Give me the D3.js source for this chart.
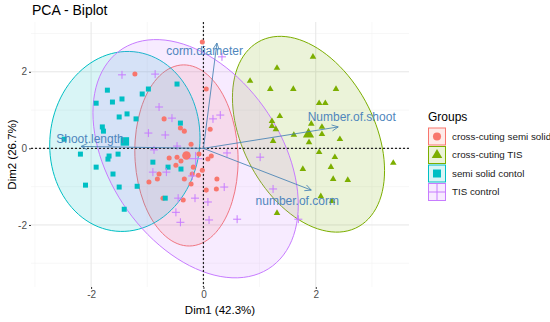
<!DOCTYPE html>
<html>
<head>
<meta charset="utf-8">
<script src="https://cdn.jsdelivr.net/npm/d3@7"></script>
<style>
  body { margin: 0; background: white; }
  text { font-family: Arial, "Liberation Sans", sans-serif; }
</style>
</head>
<body>
<div id="viz"></div>
<script>

// Group names and colors
var groups = ["cross-cuting semi solid", "cross-cuting TIS", "semi solid contol", "TIS control"];
var groupColors = ["#F8766D", "#7CAE00", "#00BFC4", "#C77CFF"];
var groupShapes = ["circle", "triangle", "square", "plus"];

// Individual coordinates per group (Dim1, Dim2)
var semiSolidPts = [
	[-0.02, 2.78], [-1.22, 1.94], [0.05, 1.55], [-0.70, 0.77], [-0.41, 0.53], [-0.34, 0.45],
	[0.12, 0.50], [-0.22, 0.11], [-0.61, -0.25], [-0.47, -0.23], [-0.40, -0.33], [-0.49, -0.44],
	[-0.08, -0.15], [0.08, -0.28], [0.14, -0.20], [-0.79, -0.67], [-0.82, -0.80], [-0.97, -0.88],
	[-0.34, -0.80], [-0.22, -0.93], [-0.09, -0.70], [-0.02, -0.57], [-0.18, -0.49], [-0.20, -0.67],
	[0.24, -0.80], [0.23, -1.06], [0.05, -1.09], [-0.72, -1.30], [-0.36, -1.35]
];
var tisPts = [
	[1.95, 2.39], [1.31, 2.10], [0.83, 1.76], [1.19, 1.55], [1.60, 1.55], [2.36, 1.55],
	[2.06, 1.18], [2.17, 1.18], [1.36, 0.84], [1.22, 0.71], [1.22, 0.58], [1.29, 0.50],
	[1.92, 0.64], [2.11, 0.56], [1.61, 0.35], [2.11, 0.37], [1.88, 0.16], [2.43, 0.24],
	[1.24, 0.19], [2.06, -0.10], [2.34, -0.23], [2.27, -0.49], [1.77, -0.54], [3.38, -0.38],
	[2.31, -0.80], [2.57, -0.83], [2.09, -1.25], [2.29, -1.38], [1.31, -1.69]
];
var semiControlPts = [
	[-1.71, 1.52], [-1.91, 1.18], [-1.62, 1.21], [-1.45, 1.29], [-1.09, 1.42], [-0.98, 1.55],
	[-0.47, 1.68], [-1.50, 0.82], [-1.36, 0.90], [-1.20, 0.77], [-1.80, 0.56], [-1.78, 0.45],
	[-2.48, 0.24], [-2.19, -0.15], [-1.68, -0.20], [-1.70, -0.28], [-1.52, -0.15], [-1.91, -0.49],
	[-1.61, -0.67], [-2.10, -0.96], [-1.50, -1.01], [-1.18, -0.99], [-1.41, -1.59], [-0.90, -0.36],
	[-0.63, -0.49], [-0.40, -0.54], [-0.41, 0.66], [-0.68, -1.30]
];
var tisControlPts = [
	[-1.45, 1.92], [-0.86, 1.94], [0.33, 2.39], [-0.79, 1.08], [-0.56, 0.79], [0.30, 0.87],
	[0.17, 0.77], [-0.98, 0.40], [-0.68, 0.35], [-0.88, -0.04], [-0.47, 0.06], [0.42, -0.12],
	[1.01, -0.23], [-0.90, -0.62], [-0.66, -0.62], [-0.20, -0.72], [0.37, -1.01], [1.24, -1.06],
	[-0.45, -1.30], [-0.15, -1.30], [0.08, -1.40], [-0.49, -1.67], [-0.41, -1.93], [0.10, -1.87],
	[0.60, -1.85], [1.69, -1.85]
];
var groupPoints = [semiSolidPts, tisPts, semiControlPts, tisControlPts];

// Variables (arrow tips and label positions)
var varNames = ["corm.diameter", "Number.of.shoot", "number.of.corm", "Shoot.length"];
var varTips = [[0.24, 2.75], [2.40, 0.56], [1.92, -1.09], [-2.18, 0.05]];
var varLabelPos = [[0.02, 2.52], [2.64, 0.79], [1.67, -1.40], [-2.02, 0.22]];

// Axis ticks
var xTicks = [-2, 0, 2], yTicks = [-2, 0, 2];
var xMinor = [-3, -1, 1, 3], yMinor = [-3, -1, 1, 3];

var width = 550, height = 322;
var panel = {left: 31, right: 409, top: 22, bottom: 287};

var x = d3.scaleLinear().domain([-3.07, 3.66]).range([panel.left, panel.right]);
var y = d3.scaleLinear().domain([-3.62, 3.30]).range([panel.bottom, panel.top]);

var svg = d3.select("#viz").append("svg")
	.attr("width", width)
	.attr("height", height)
	.style("background", "white");

// Grid lines
var grid = svg.append("g");
xMinor.forEach(v => grid.append("line")
	.attr("x1", x(v)).attr("x2", x(v)).attr("y1", panel.top).attr("y2", panel.bottom)
	.style("stroke", "#f2f2f2").style("stroke-width", 0.6));
yMinor.forEach(v => grid.append("line")
	.attr("x1", panel.left).attr("x2", panel.right).attr("y1", y(v)).attr("y2", y(v))
	.style("stroke", "#f2f2f2").style("stroke-width", 0.6));
xTicks.forEach(v => grid.append("line")
	.attr("x1", x(v)).attr("x2", x(v)).attr("y1", panel.top).attr("y2", panel.bottom)
	.style("stroke", "#e6e6e6").style("stroke-width", 1));
yTicks.forEach(v => grid.append("line")
	.attr("x1", panel.left).attr("x2", panel.right).attr("y1", y(v)).attr("y2", y(v))
	.style("stroke", "#e6e6e6").style("stroke-width", 1));

// Axes (ticks and labels only)
var xAxis = svg.append("g")
	.attr("transform", `translate(0, ${panel.bottom})`)
	.call(d3.axisBottom(x).tickValues(xTicks).tickSize(2).tickPadding(2).tickFormat(d3.format("d")));
var yAxis = svg.append("g")
	.attr("transform", `translate(${panel.left}, 0)`)
	.call(d3.axisLeft(y).tickValues(yTicks).tickSize(2).tickPadding(2).tickFormat(d3.format("d")));
[xAxis, yAxis].forEach(a => {
	a.select(".domain").remove();
	a.selectAll(".tick line").style("stroke", "#333");
	a.selectAll(".tick text").style("fill", "#4d4d4d").style("font-size", "10px")
		.style("font-family", "Arial, 'Liberation Sans', sans-serif");
});
xAxis.selectAll(".tick text").text(d => d < 0 ? "-" + Math.abs(d) : d);
yAxis.selectAll(".tick text").text(d => d < 0 ? "-" + Math.abs(d) : d);

// Concentration ellipses (normal, 95%) from each group's covariance
var ellipsePath = (pts) => {
	var n = pts.length,
		mx = d3.mean(pts, d => d[0]),
		my = d3.mean(pts, d => d[1]);
	var sxx = d3.sum(pts, d => (d[0] - mx) * (d[0] - mx)) / (n - 1),
		syy = d3.sum(pts, d => (d[1] - my) * (d[1] - my)) / (n - 1),
		sxy = d3.sum(pts, d => (d[0] - mx) * (d[1] - my)) / (n - 1);
	// chi-square radius, 2 df, 95%
	var r = Math.sqrt(-2 * Math.log(0.05));
	var a = Math.sqrt(sxx), b = sxy / a, c = Math.sqrt(syy - b * b);
	var out = d3.range(0, 52).map(i => {
		var t = i / 52 * 2 * Math.PI;
		return [mx + r * a * Math.cos(t), my + r * (b * Math.cos(t) + c * Math.sin(t))];
	});
	return d3.line().x(d => x(d[0])).y(d => y(d[1])).curve(d3.curveCardinalClosed)(out);
};

svg.append("g").selectAll("path")
	.data(groupPoints)
	.enter()
	.append("path")
	.attr("d", d => ellipsePath(d))
	.style("fill", (d, i) => groupColors[i])
	.style("fill-opacity", 0.15)
	.style("stroke", (d, i) => groupColors[i])
	.style("stroke-width", 1);

// Reference lines
svg.append("line")
	.attr("x1", x(0)).attr("x2", x(0)).attr("y1", panel.top).attr("y2", panel.bottom)
	.style("stroke", "#222").style("stroke-width", 1.2).style("stroke-dasharray", "2,2");
svg.append("line")
	.attr("x1", panel.left).attr("x2", panel.right).attr("y1", y(0)).attr("y2", y(0))
	.style("stroke", "#222").style("stroke-width", 1.2).style("stroke-dasharray", "2,2");

// Shape drawing
var shapePath = (shape, s) => {
	if (shape == "circle") return d3.symbol(d3.symbolCircle, s * s * 0.8)();
	if (shape == "square") return d3.symbol(d3.symbolSquare, s * s)();
	if (shape == "triangle") return d3.symbol(d3.symbolTriangle, s * s * 0.75)();
	var h = s * 0.8;
	return `M${-h},0H${h}M0,${-h}V${h}`;
};
var drawShape = (g, shape, color, s) => {
	g.append("path")
		.attr("d", shapePath(shape, s))
		.style("fill", shape == "plus" ? "none" : color)
		.style("stroke", color)
		.style("stroke-width", shape == "plus" ? 1 : 0);
};

// Individuals
groupPoints.forEach((pts, gi) => {
	svg.append("g").selectAll("g")
		.data(pts)
		.enter()
		.append("g")
		.attr("transform", d => `translate(${x(d[0])}, ${y(d[1])})`)
		.each(function() { drawShape(d3.select(this), groupShapes[gi], groupColors[gi], 5); });
});

// Group means
groupPoints.forEach((pts, gi) => {
	var mx = d3.mean(pts, d => d[0]), my = d3.mean(pts, d => d[1]);
	var g = svg.append("g").attr("transform", `translate(${x(mx)}, ${y(my)})`);
	drawShape(g, groupShapes[gi], groupColors[gi], 8.5);
});

// Variable arrows
var arrows = svg.append("g");
varTips.forEach((t, i) => {
	var x0 = x(0), y0 = y(0), x1 = x(t[0]), y1 = y(t[1]);
	var ang = Math.atan2(y1 - y0, x1 - x0), L = 7, spread = 0.45;
	arrows.append("line")
		.attr("x1", x0).attr("y1", y0).attr("x2", x1).attr("y2", y1)
		.style("stroke", "#4682B4").style("stroke-width", 1).style("opacity", 0.85);
	arrows.append("path")
		.attr("d", `M${x1 - L * Math.cos(ang - spread)},${y1 - L * Math.sin(ang - spread)}L${x1},${y1}L${x1 - L * Math.cos(ang + spread)},${y1 - L * Math.sin(ang + spread)}`)
		.style("fill", "none").style("stroke", "#4682B4").style("stroke-width", 1).style("opacity", 0.85);
});
svg.append("g").selectAll("text")
	.data(varNames)
	.enter()
	.append("text")
	.attr("x", (d, i) => x(varLabelPos[i][0]))
	.attr("y", (d, i) => y(varLabelPos[i][1]))
	.attr("text-anchor", "middle")
	.attr("dominant-baseline", "middle")
	.style("fill", "#4F86BD")
	.style("font-size", "12px")
	.text(d => d);

// Title and axis titles
svg.append("text").attr("x", 32).attr("y", 15)
	.style("font-size", "14px").style("fill", "#000").text("PCA - Biplot");
svg.append("text").attr("x", (panel.left + panel.right) / 2).attr("y", 314)
	.attr("text-anchor", "middle").style("font-size", "11.5px").style("fill", "#000").text("Dim1 (42.3%)");
svg.append("text")
	.attr("transform", `translate(16, ${(panel.top + panel.bottom) / 2}) rotate(-90)`)
	.attr("text-anchor", "middle").style("font-size", "11.5px").style("fill", "#000").text("Dim2 (26.7%)");

// Legend
var legend = svg.append("g").attr("transform", "translate(428, 0)");
legend.append("text").attr("x", 0).attr("y", 121).style("font-size", "12px").style("fill", "#000").text("Groups");
groups.forEach((name, i) => {
	var ky = 128 + i * 18.5;
	legend.append("rect")
		.attr("x", 0.5).attr("y", ky).attr("width", 17).attr("height", 17)
		.style("fill", groupColors[i]).style("fill-opacity", 0.15)
		.style("stroke", groupColors[i]).style("stroke-width", 1);
	var g = legend.append("g").attr("transform", `translate(9, ${ky + 8.5})`);
	drawShape(g, groupShapes[i], groupColors[i], groupShapes[i] == "plus" ? 10 : 8);
	legend.append("text").attr("x", 24).attr("y", ky + 9)
		.attr("dominant-baseline", "middle")
		.style("font-size", "9.8px").style("fill", "#1a1a1a").text(name);
});

</script>
</body>
</html>
